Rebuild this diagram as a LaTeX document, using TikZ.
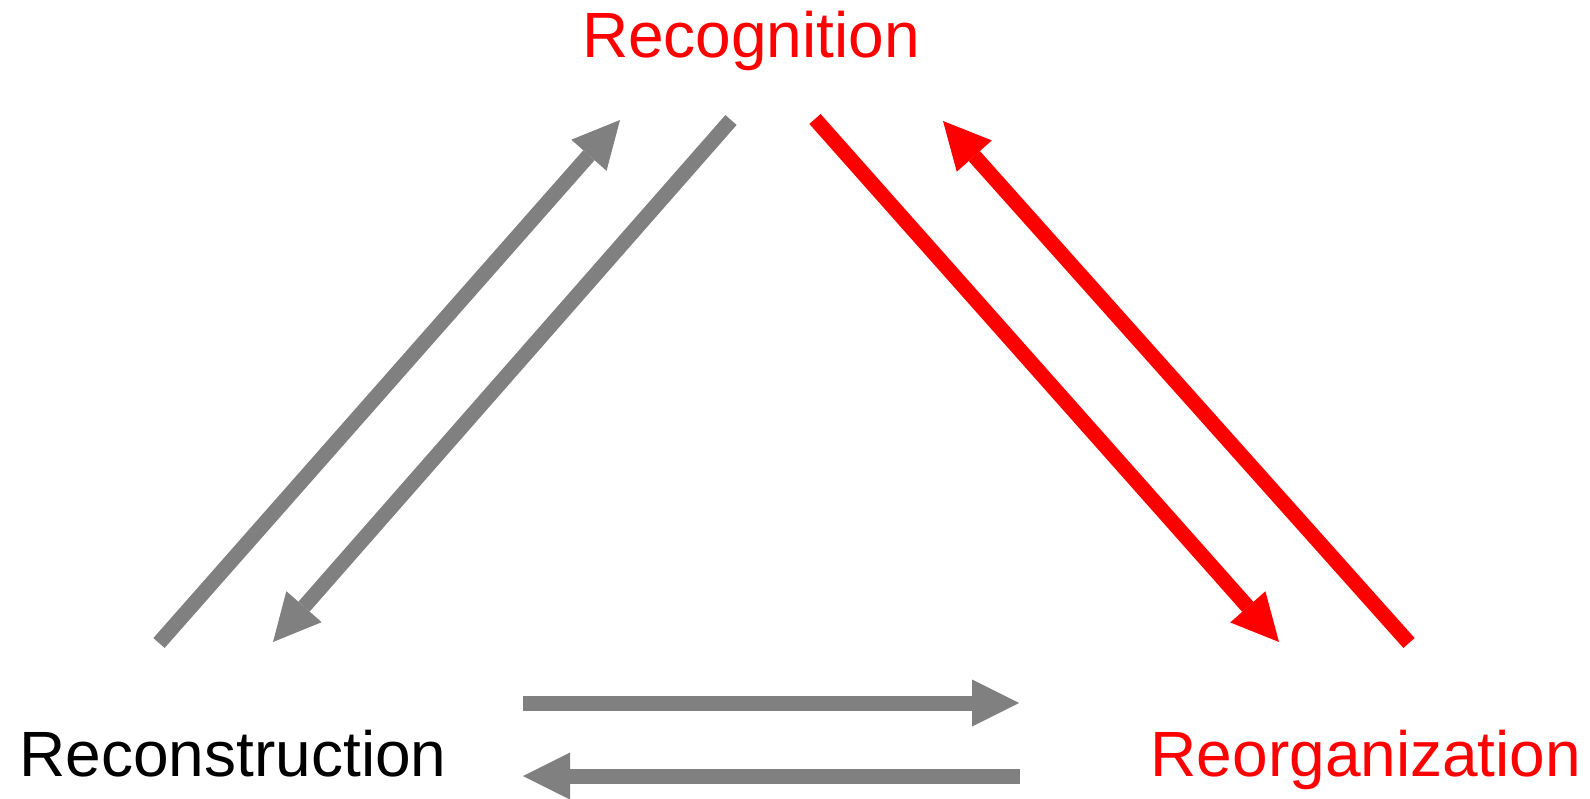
\documentclass[tikz,border=0pt]{standalone}
\usepackage{fontspec}
\setmainfont{Liberation Sans}
\usetikzlibrary{arrows.meta}

\tikzset{
	word/.style={anchor=base, inner sep=0pt, font=\fontsize{64}{76}\selectfont},
	link/.style={line width=15pt, -{Triangle[length=47pt,width=47pt,line width=0pt]}}
}

\begin{document}
\begin{tikzpicture}[x=1pt,y=-1pt]
	\useasboundingbox (0,0) rectangle (1590,799);
	\node (reco) at (751,58)[word,red]{Recognition};
	\node (recon) at (233,776)[word]{Reconstruction};
	\node (reorg) at (1366,776)[word,red]{Reorganization};
	\coordinate (ua) at (159,643);
	\coordinate (ub) at (620,120);
	\coordinate (da) at (731,120);
	\coordinate (db) at (273,642);
	\coordinate (ra) at (815,119);
	\coordinate (rb) at (1279,642);
	\coordinate (la) at (1409,643);
	\coordinate (lb) at (943,121);
	\coordinate (ha) at (523,703);
	\coordinate (hb) at (1019,703);
	\coordinate (ka) at (1020,776);
	\coordinate (kb) at (523,776);
	\draw[link,gray] (ua)--(ub);
	\draw[link,gray] (da)--(db);
	\draw[link,red] (ra)--(rb);
	\draw[link,red] (la)--(lb);
	\draw[link,gray] (ha)--(hb);
	\draw[link,gray] (ka)--(kb);
\end{tikzpicture}
\end{document}
